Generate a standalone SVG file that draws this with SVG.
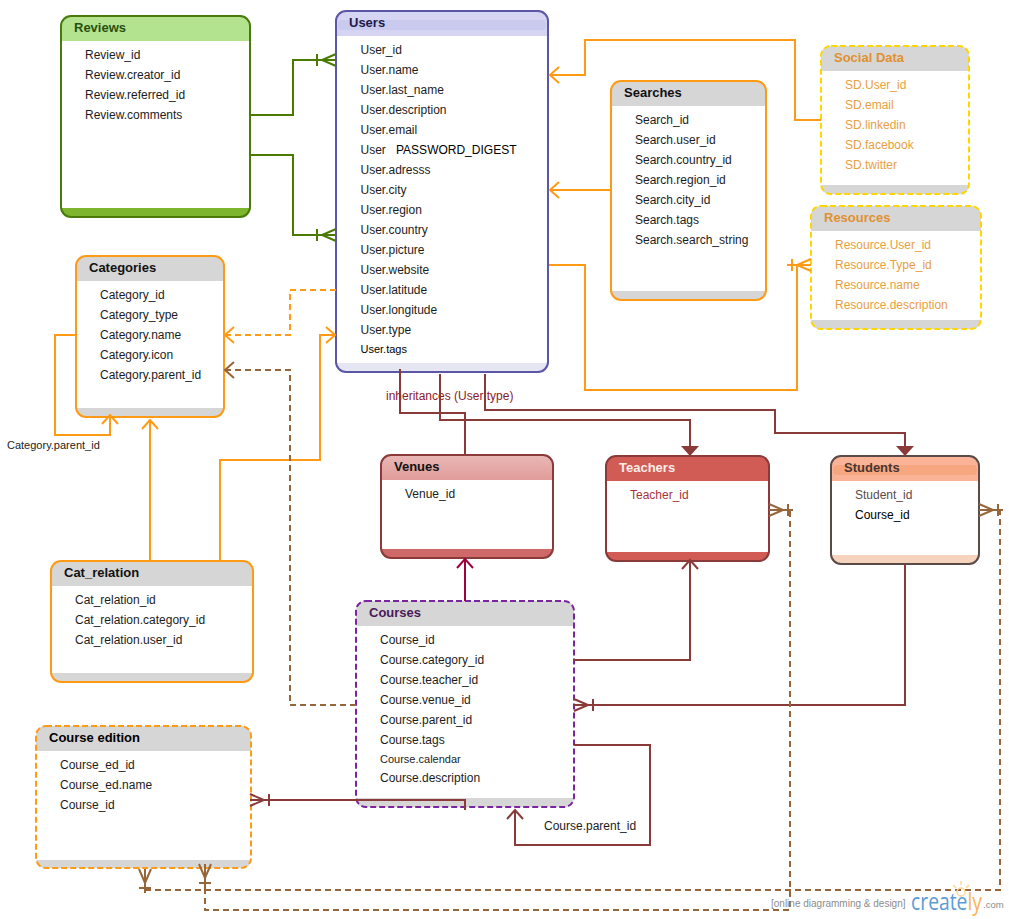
<svg xmlns="http://www.w3.org/2000/svg" width="1009" height="919" viewBox="0 0 1009 919">
<style>
text{font-family:"Liberation Sans",Arial,sans-serif;font-size:12px;fill:#1c1c1c}
.t{font-size:13px;font-weight:bold;fill:#111}
.b{fill:#fff}
.f{fill:none;stroke-width:2}
.g{fill:#d6d6d6}
.c{fill:none;stroke-width:2}
.d{stroke-dasharray:6 4}
.dm{stroke-dasharray:6 3}
.or{stroke:#ff9a14}.gr{stroke:#4a7a00}.dr{stroke:#8a3a38}.br{stroke:#96653a}.cr{stroke:#a0003c}
.sd text,text.y{fill:#e9a040}
.sd text.t{fill:#e0912f}
.l{font-size:11px}
.ma{fill:none;stroke-width:2}
</style>
<defs>
<linearGradient id="vh" x1="0" y1="0" x2="0" y2="1"><stop offset="0" stop-color="#e9b8b6"/><stop offset="1" stop-color="#e09c9a"/></linearGradient>
<marker id="aO" markerUnits="userSpaceOnUse" viewBox="-12 -10 14 20" markerWidth="14" markerHeight="20" refX="0" refY="0" orient="auto"><path class="ma" stroke="#ff9a14" d="M-9,-8L0,0L-9,8"/></marker>
<marker id="aD" markerUnits="userSpaceOnUse" viewBox="-12 -10 14 20" markerWidth="14" markerHeight="20" refX="0" refY="0" orient="auto"><path class="ma" stroke="#8a3a38" d="M-9,-8L0,0L-9,8"/></marker>
<marker id="aB" markerUnits="userSpaceOnUse" viewBox="-12 -10 14 20" markerWidth="14" markerHeight="20" refX="0" refY="0" orient="auto"><path class="ma" stroke="#96653a" d="M-9,-8L0,0L-9,8"/></marker>
<marker id="aC" markerUnits="userSpaceOnUse" viewBox="-12 -10 14 20" markerWidth="14" markerHeight="20" refX="0" refY="0" orient="auto"><path class="ma" stroke="#a0003c" d="M-9,-8L0,0L-9,8"/></marker>
<marker id="tD" markerUnits="userSpaceOnUse" viewBox="-12 -10 14 20" markerWidth="14" markerHeight="20" refX="0" refY="0" orient="auto"><path fill="#8a3a38" d="M-10,-9L0,0L-10,9Z"/></marker>
<marker id="cG" markerUnits="userSpaceOnUse" viewBox="-26 -8 28 16" markerWidth="28" markerHeight="16" refX="0" refY="0" orient="auto"><path class="ma" stroke="#4a7a00" d="M0,-6L-14,0L0,6M-24,0H0M-19,-6V6"/></marker>
<marker id="cO" markerUnits="userSpaceOnUse" viewBox="-26 -8 28 16" markerWidth="28" markerHeight="16" refX="0" refY="0" orient="auto"><path class="ma" stroke="#ff9a14" d="M0,-6L-14,0L0,6M-24,0H0M-19,-6V6"/></marker>
<marker id="cD" markerUnits="userSpaceOnUse" viewBox="-26 -8 28 16" markerWidth="28" markerHeight="16" refX="0" refY="0" orient="auto"><path class="ma" stroke="#8a3a38" d="M0,-6L-14,0L0,6M-24,0H0M-19,-6V6"/></marker>
<marker id="cB" markerUnits="userSpaceOnUse" viewBox="-26 -8 28 16" markerWidth="28" markerHeight="16" refX="0" refY="0" orient="auto"><path class="ma" stroke="#96653a" d="M0,-6L-14,0L0,6M-24,0H0M-19,-6V6"/></marker>
</defs>

<g id="reviews">
<rect class="b" x="61" y="16" width="189" height="201" rx="10"/>
<path fill="#b3e38e" d="M61,41V26Q61,16 71,16H240Q250,16 250,26V41Z"/>
<path fill="#7db52e" d="M61,208H250V207Q250,217 240,217H71Q61,217 61,207Z"/>
<rect class="f" stroke="#4a7a0a" x="61" y="16" width="189" height="201" rx="10"/>
<text class="t" x="74" y="32" style="fill:#2a5010">Reviews</text>
<text x="85" y="59">Review_id</text><text x="85" y="79">Review.creator_id</text><text x="85" y="99">Review.referred_id</text><text x="85" y="119">Review.comments</text>
</g>

<g id="users">
<rect class="b" x="336" y="11" width="212" height="361" rx="10"/>
<path fill="#d5d4f3" d="M336,36V21Q336,11 346,11H538Q548,11 548,21V36Z"/>
<rect fill="#cac9ee" x="338" y="20" width="208" height="10" rx="4"/>
<path fill="#e6e6f3" d="M336,363H548V362Q548,372 538,372H346Q336,372 336,362Z"/>
<rect class="f" stroke="#5b56a8" x="336" y="11" width="212" height="361" rx="10"/>
<text class="t" x="349" y="27" style="fill:#1c1a4a">Users</text>
<text x="360.5" y="54">User_id</text><text x="360.5" y="74">User.name</text><text x="360.5" y="94">User.last_name</text><text x="360.5" y="114">User.description</text><text x="360.5" y="134">User.email</text>
<text x="360.5" y="154">User<tspan x="396" style="fill:#000">PASSWORD_DIGEST</tspan></text>
<text x="360.5" y="174">User.adresss</text><text x="360.5" y="194">User.city</text><text x="360.5" y="214">User.region</text><text x="360.5" y="234">User.country</text><text x="360.5" y="254">User.picture</text><text x="360.5" y="274">User.website</text><text x="360.5" y="294">User.latitude</text><text x="360.5" y="314">User.longitude</text><text x="360.5" y="334">User.type</text><text class="l" x="360.5" y="353" style="fill:#000">User.tags</text>
</g>

<g id="searches">
<rect class="b" x="611" y="81" width="155" height="219" rx="10"/>
<path class="g" d="M611,106V91Q611,81 621,81H756Q766,81 766,91V106Z"/>
<path class="g" d="M611,291H766V290Q766,300 756,300H621Q611,300 611,290Z"/>
<rect class="f or" x="611" y="81" width="155" height="219" rx="10"/>
<text class="t" x="624" y="97">Searches</text>
<text x="635" y="124">Search_id</text><text x="635" y="144">Search.user_id</text><text x="635" y="164">Search.country_id</text><text x="635" y="184">Search.region_id</text><text x="635" y="204">Search.city_id</text><text x="635" y="224">Search.tags</text><text x="635" y="244">Search.search_string</text>
</g>

<g id="social-data" class="sd">
<rect class="b" x="821" y="46" width="148" height="148" rx="10"/>
<path class="g" d="M821,71V56Q821,46 831,46H959Q969,46 969,56V71Z"/>
<path class="g" d="M821,185H969V184Q969,194 959,194H831Q821,194 821,184Z"/>
<rect class="f dm" stroke="#ffd700" x="821" y="46" width="148" height="148" rx="10"/>
<text class="t" x="834" y="62">Social Data</text>
<text x="845" y="89">SD.User_id</text><text x="845" y="109">SD.email</text><text x="845" y="129">SD.linkedin</text><text x="845" y="149">SD.facebook</text><text x="845" y="169">SD.twitter</text>
</g>

<g id="resources" class="sd">
<rect class="b" x="811" y="206" width="170" height="123" rx="10"/>
<path class="g" d="M811,231V216Q811,206 821,206H971Q981,206 981,216V231Z"/>
<path class="g" d="M811,320H981V319Q981,329 971,329H821Q811,329 811,319Z"/>
<rect class="f dm" stroke="#ffd700" x="811" y="206" width="170" height="123" rx="10"/>
<text class="t" x="824" y="222">Resources</text>
<text x="835" y="249">Resource.User_id</text><text x="835" y="269">Resource.Type_id</text><text x="835" y="289">Resource.name</text><text x="835" y="309">Resource.description</text>
</g>

<g id="categories">
<rect class="b" x="76" y="256" width="148" height="161" rx="10"/>
<path class="g" d="M76,281V266Q76,256 86,256H214Q224,256 224,266V281Z"/>
<path class="g" d="M76,408H224V407Q224,417 214,417H86Q76,417 76,407Z"/>
<rect class="f or" x="76" y="256" width="148" height="161" rx="10"/>
<text class="t" x="89" y="272">Categories</text>
<text x="100" y="299">Category_id</text><text x="100" y="319">Category_type</text><text x="100" y="339">Category.name</text><text x="100" y="359">Category.icon</text><text x="100" y="379">Category.parent_id</text>
</g>

<g id="venues">
<rect class="b" x="381" y="455" width="172" height="103" rx="10"/>
<path fill="url(#vh)" d="M381,480V465Q381,455 391,455H543Q553,455 553,465V480Z"/>
<path fill="#cf6868" d="M381,549H553V548Q553,558 543,558H391Q381,558 381,548Z"/>
<rect class="f dr" x="381" y="455" width="172" height="103" rx="10"/>
<text class="t" x="394" y="471">Venues</text>
<text x="405" y="498">Venue_id</text>
</g>

<g id="teachers">
<rect class="b" x="606" y="456" width="163" height="105" rx="10"/>
<path fill="#d15b55" d="M606,481V466Q606,456 616,456H759Q769,456 769,466V481Z"/>
<path fill="#d15b55" d="M606,552H769V551Q769,561 759,561H616Q606,561 606,551Z"/>
<rect class="f dr" x="606" y="456" width="163" height="105" rx="10"/>
<text class="t" x="619" y="472" style="fill:#fbeee8">Teachers</text>
<text x="630" y="499" style="fill:#a8323a">Teacher_id</text>
</g>

<g id="students">
<rect class="b" x="831" y="456" width="148" height="108" rx="10"/>
<path fill="#fbb397" d="M831,481V466Q831,456 841,456H969Q979,456 979,466V481Z"/>
<rect fill="#f7a77f" x="833" y="465" width="144" height="10" rx="4"/>
<path fill="#f5d3bd" d="M831,555H979V554Q979,564 969,564H841Q831,564 831,554Z"/>
<rect class="f" stroke="#5a4a48" x="831" y="456" width="148" height="108" rx="10"/>
<text class="t" x="844" y="472" style="fill:#4a3430">Students</text>
<text x="855" y="499" style="fill:#5a4a48">Student_id</text><text x="855" y="519" style="fill:#000">Course_id</text>
</g>

<g id="cat-relation">
<rect class="b" x="51" y="561" width="202" height="121" rx="10"/>
<path class="g" d="M51,586V571Q51,561 61,561H243Q253,561 253,571V586Z"/>
<path class="g" d="M51,673H253V672Q253,682 243,682H61Q51,682 51,672Z"/>
<rect class="f or" x="51" y="561" width="202" height="121" rx="10"/>
<text class="t" x="64" y="577">Cat_relation</text>
<text x="75" y="604">Cat_relation_id</text><text x="75" y="624">Cat_relation.category_id</text><text x="75" y="644">Cat_relation.user_id</text>
</g>

<g id="courses">
<rect class="b" x="356" y="601" width="218" height="206" rx="10"/>
<path class="g" d="M356,626V611Q356,601 366,601H564Q574,601 574,611V626Z"/>
<path class="g" d="M356,798H574V797Q574,807 564,807H366Q356,807 356,797Z"/>
<rect class="f dm" stroke="#7b24a0" x="356" y="601" width="218" height="206" rx="10"/>
<text class="t" x="369" y="617" style="fill:#4a1a5a">Courses</text>
<text x="380" y="644">Course_id</text><text x="380" y="664">Course.category_id</text><text x="380" y="684">Course.teacher_id</text><text x="380" y="704">Course.venue_id</text><text x="380" y="724">Course.parent_id</text><text x="380" y="744">Course.tags</text><text class="l" x="380" y="763">Course.calendar</text><text x="380" y="782">Course.description</text>
</g>

<g id="course-edition">
<rect class="b" x="36" y="726" width="215" height="142" rx="10"/>
<path class="g" d="M36,751V736Q36,726 46,726H241Q251,726 251,736V751Z"/>
<path class="g" d="M36,860H251V858Q251,868 241,868H46Q36,868 36,858Z"/>
<rect class="f dm or" x="36" y="726" width="215" height="142" rx="10"/>
<text class="t" x="49" y="742" style="fill:#000">Course edition</text>
<text x="60" y="769">Course_ed_id</text><text x="60" y="789">Course_ed.name</text><text x="60" y="809">Course_id</text>
</g>

<g id="labels">
<text x="386" y="400" style="fill:#8a1a2a">inheritances (User type)</text>
<text class="l" x="7" y="449">Category.parent_id</text>
<text x="544" y="830">Course.parent_id</text>
</g>

<g id="connectors">
<path class="c gr" marker-end="url(#cG)" d="M250,115H293V60H336"/>
<path class="c gr" marker-end="url(#cG)" d="M250,155H293V235H336"/>
<path class="c or" marker-end="url(#aO)" d="M611,190H550"/>
<path class="c or" marker-end="url(#aO)" d="M821,120H795V40H585V75H550"/>
<path class="c or" marker-end="url(#cO)" d="M549,265H585V390H797V265H811"/>
<path class="c or d" marker-end="url(#aO)" d="M336,290H290V335H225"/>
<path class="c or" marker-end="url(#aO)" d="M220,561V460H320V335H335"/>
<path class="c or" marker-end="url(#aO)" d="M150,561V420"/>
<path class="c or" marker-end="url(#aO)" d="M76,335H55V435H110V415"/>
<path class="c br d" marker-end="url(#aB)" d="M356,705H290V370H225"/>
<path class="c dr" d="M400,369V413H465V455"/>
<path class="c dr" marker-end="url(#tD)" d="M440,374V420H690V456"/>
<path class="c dr" marker-end="url(#tD)" d="M485,374V410H775V433H905V456"/>
<path class="c cr" marker-end="url(#aC)" d="M465,601V559"/>
<path class="c dr" marker-end="url(#aD)" d="M574,660H690V560"/>
<path class="c dr" marker-end="url(#cD)" d="M905,564V705H574"/>
<path class="c dr" marker-end="url(#cD)" d="M465,810V800H250"/>
<path class="c dr" marker-end="url(#aD)" d="M574,745H650V845H515V810"/>
<path class="c br d" d="M205,888V910H790V510"/>
<path class="c br" marker-end="url(#cB)" d="M205,868V864"/>
<path class="c br" marker-end="url(#cB)" d="M773,510H769"/>
<path class="c br d" d="M145,890H1000V510"/>
<path class="c br" marker-end="url(#cB)" d="M145,873V869"/>
<path class="c br" marker-end="url(#cB)" d="M983,510H979"/>
</g>

<g id="logo">
<path fill="none" stroke="#fbd79a" stroke-width="1.5" d="M961,881V885M953,885L956,888M969,885L966,888"/>
<circle cx="961" cy="892" r="4" fill="none" stroke="#fbd79a" stroke-width="1.5"/>
<text x="771" y="907" style="font-size:10px;fill:#8c8c8c">[online diagramming &amp; design]</text>
<text x="911" y="910" textLength="71" lengthAdjust="spacingAndGlyphs" style="font-family:'Open Sans',sans-serif;font-size:24px;fill:#5b9bd5">create<tspan style="fill:#f9b35c">ly</tspan></text>
<text x="983" y="908" style="font-size:9.5px;fill:#8c8c8c">.com</text>
</g>
</svg>
